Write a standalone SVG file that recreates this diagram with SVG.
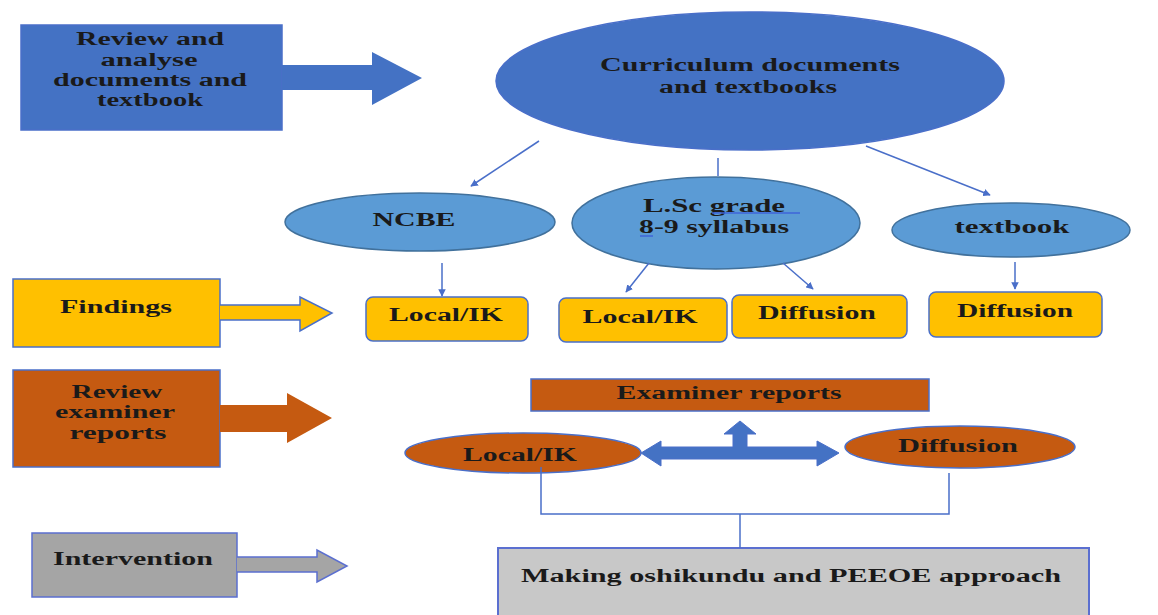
<svg xmlns="http://www.w3.org/2000/svg" width="1158" height="615" viewBox="0 0 1158 615">
<defs>
<marker id="ah" viewBox="0 0 10 10" refX="9" refY="5" markerWidth="5" markerHeight="5" orient="auto" markerUnits="strokeWidth">
<path d="M0,0 L10,5 L0,10 z" fill="#4A6FC9"/>
</marker>
<style>
.t{font-family:"Liberation Serif","Times New Roman",serif;font-weight:bold;font-size:18px;fill:#1a1a1a;text-anchor:middle}
.blue{fill:#4472C4;stroke:#4A6FC9;stroke-width:1.5}
.lblue{fill:#5B9BD5;stroke:#41719C;stroke-width:1.5}
.yel{fill:#FFC000;stroke:#4A6FC9;stroke-width:1.5}
.org{fill:#C55A11;stroke:#4A6FC9;stroke-width:1.5}
.gry{fill:#A5A5A5;stroke:#5B6FD0;stroke-width:1.5}
.lgry{fill:#C8C8C8;stroke:#5B6FD0;stroke-width:2}
.conn{fill:none;stroke:#4A6FC9;stroke-width:1.5}
.bigarr{fill:#4472C4;stroke:#4A6FC9;stroke-width:1}
</style>
</defs>
<rect width="1158" height="615" fill="#ffffff"/>

<g id="review-docs">
<rect x="21" y="25" width="261" height="105" class="blue"/>
<path d="M282,65 L372,65 L372,52 L422,78 L372,105 L372,90 L282,90 z" fill="#4472C4"/>
<text class="t" x="150" y="45" textLength="148" lengthAdjust="spacingAndGlyphs">Review and</text>
<text class="t" x="149" y="66" textLength="97" lengthAdjust="spacingAndGlyphs">analyse</text>
<text class="t" x="150" y="86" textLength="194" lengthAdjust="spacingAndGlyphs">documents and</text>
<text class="t" x="150" y="106" textLength="106" lengthAdjust="spacingAndGlyphs">textbook</text>
</g>

<g id="curriculum">
<ellipse cx="750" cy="81" rx="254" ry="69" class="blue"/>
<text class="t" x="750" y="71" textLength="300" lengthAdjust="spacingAndGlyphs">Curriculum documents</text>
<text class="t" x="748" y="93" textLength="178" lengthAdjust="spacingAndGlyphs">and textbooks</text>
</g>

<g id="ncbe">
<ellipse cx="420" cy="222" rx="135" ry="29" class="lblue"/>
<text class="t" x="414" y="226" textLength="83" lengthAdjust="spacingAndGlyphs">NCBE</text>
</g>

<g id="lsc">
<ellipse cx="716" cy="223" rx="144" ry="46" class="lblue"/>
<text class="t" x="714" y="212" textLength="142" lengthAdjust="spacingAndGlyphs">L.Sc grade</text>
<text class="t" x="714" y="233" textLength="150" lengthAdjust="spacingAndGlyphs">8-9 syllabus</text>
<line x1="712" y1="213" x2="800" y2="213" stroke="#3E64D8" stroke-width="1.5"/>
<line x1="640" y1="236" x2="653" y2="236" stroke="#3E64D8" stroke-width="1.5"/>
</g>

<g id="textbook">
<ellipse cx="1011" cy="230" rx="119" ry="27" class="lblue"/>
<text class="t" x="1012" y="233" textLength="115" lengthAdjust="spacingAndGlyphs">textbook</text>
</g>

<g id="findings">
<rect x="13" y="279" width="207" height="68" class="yel"/>
<path d="M220,305 L300,305 L300,297 L332,313 L300,331 L300,320 L220,320" fill="#FFC000" stroke="#4A6FC9" stroke-width="1.5"/>
<text class="t" x="116" y="313" textLength="112" lengthAdjust="spacingAndGlyphs">Findings</text>
</g>

<g id="local-ik-1">
<rect x="366" y="297" width="162" height="44" rx="7" class="yel"/>
<text class="t" x="446" y="321" textLength="114" lengthAdjust="spacingAndGlyphs">Local/IK</text>
</g>

<g id="local-ik-2">
<rect x="559" y="298" width="168" height="44" rx="7" class="yel"/>
<text class="t" x="640" y="323" textLength="115" lengthAdjust="spacingAndGlyphs">Local/IK</text>
</g>

<g id="diffusion-1">
<rect x="732" y="295" width="175" height="43" rx="7" class="yel"/>
<text class="t" x="817" y="319" textLength="118" lengthAdjust="spacingAndGlyphs">Diffusion</text>
</g>

<g id="diffusion-2">
<rect x="929" y="292" width="173" height="45" rx="7" class="yel"/>
<text class="t" x="1015" y="317" textLength="116" lengthAdjust="spacingAndGlyphs">Diffusion</text>
</g>

<g id="review-examiner">
<rect x="13" y="370" width="207" height="97" class="org"/>
<path d="M220,405 L287,405 L287,393 L332,418 L287,443 L287,432 L220,432 z" fill="#C55A11"/>
<text class="t" x="117" y="398" textLength="91" lengthAdjust="spacingAndGlyphs">Review</text>
<text class="t" x="115" y="418" textLength="120" lengthAdjust="spacingAndGlyphs">examiner</text>
<text class="t" x="118" y="439" textLength="97" lengthAdjust="spacingAndGlyphs">reports</text>
</g>

<g id="examiner-reports">
<rect x="531" y="379" width="398" height="32" class="org"/>
<text class="t" x="729" y="399" textLength="225" lengthAdjust="spacingAndGlyphs">Examiner reports</text>
</g>

<g id="local-ik-3">
<ellipse cx="523" cy="453" rx="118" ry="20" class="org"/>
<text class="t" x="520" y="461" textLength="114" lengthAdjust="spacingAndGlyphs">Local/IK</text>
</g>

<g id="diffusion-3">
<ellipse cx="960" cy="447" rx="115" ry="21" class="org"/>
<text class="t" x="958" y="452" textLength="120" lengthAdjust="spacingAndGlyphs">Diffusion</text>
</g>

<g id="intervention">
<rect x="32" y="533" width="205" height="64" class="gry"/>
<path d="M237,557 L317,557 L317,550 L347,566 L317,582 L317,572 L237,572" fill="#A5A5A5" stroke="#5B6FD0" stroke-width="1.5"/>
<text class="t" x="133" y="565" textLength="160" lengthAdjust="spacingAndGlyphs">Intervention</text>
</g>

<g id="making-oshikundu">
<rect x="498" y="548" width="591" height="75" class="lgry"/>
<text class="t" x="791" y="582" textLength="540" lengthAdjust="spacingAndGlyphs">Making oshikundu and PEEOE approach</text>
</g>

<g id="connectors">
<line x1="539" y1="141" x2="471" y2="186" class="conn" marker-end="url(#ah)"/>
<line x1="718" y1="158" x2="718" y2="176" class="conn"/>
<line x1="866" y1="146" x2="990" y2="195" class="conn" marker-end="url(#ah)"/>
<line x1="442" y1="263" x2="442" y2="296" class="conn" marker-end="url(#ah)"/>
<line x1="649" y1="263" x2="626" y2="292" class="conn" marker-end="url(#ah)"/>
<line x1="783" y1="263" x2="813" y2="289" class="conn" marker-end="url(#ah)"/>
<line x1="1015" y1="262" x2="1015" y2="289" class="conn" marker-end="url(#ah)"/>
<path d="M641,453 L661,441 L661,447 L733,447 L733,434 L724,434 L740,421 L756,434 L747,434 L747,447 L817,447 L817,441 L839,453 L817,466 L817,459 L661,459 L661,466 z" class="bigarr"/>
<path d="M541,467 L541,514 L949,514 L949,473" class="conn"/>
<line x1="740" y1="514" x2="740" y2="548" class="conn"/>
</g>
</svg>
